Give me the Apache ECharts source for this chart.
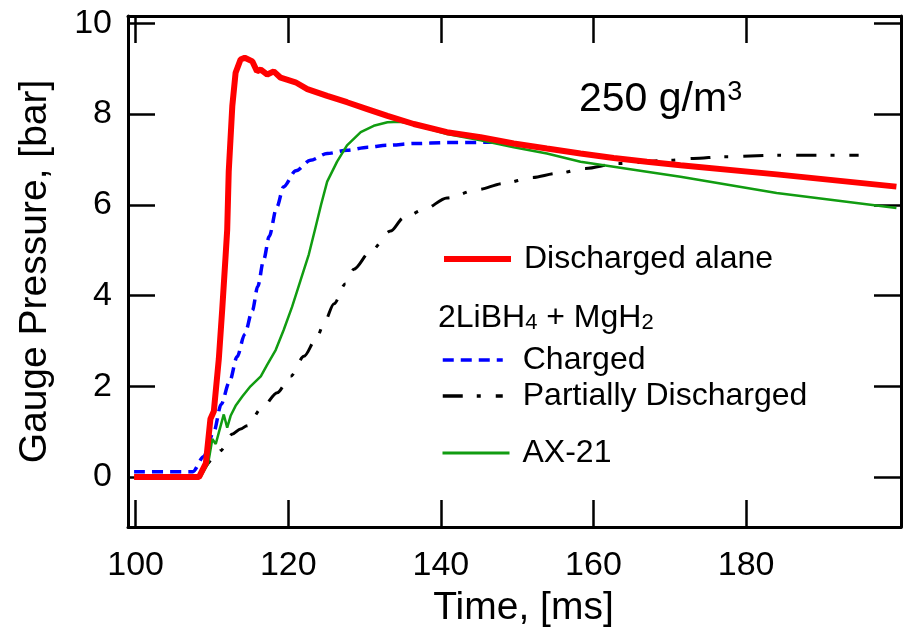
<!DOCTYPE html>
<html>
<head>
<meta charset="utf-8">
<script src="https://cdn.jsdelivr.net/npm/echarts@6/dist/echarts.min.js"></script>
<style>
  html, body { margin: 0; padding: 0; background: #fff; }
  #chart { width: 903px; height: 633px; }
</style>
</head>
<body>
<div id="chart"></div>
<script>
  // time axis ticks (ms) and pressure ticks (bar)
  var xTicks = [100, 120, 140, 160, 180];
  var yTicks = [0, 2, 4, 6, 8, 10];

  // Discharged alane
  var alaneT = [99.8, 108.3, 109.2, 109.8, 110.25, 110.9, 111.35, 111.8, 112.0, 112.2, 112.67, 113.1, 113.75, 114.3, 115.3, 115.9, 116.4, 117.25, 118.1, 119.0, 120.95, 122.5, 125.1, 127.7, 130.35, 133.0, 136.45, 140.8, 145.2, 149.55, 153.9, 158.3, 162.65, 167.0, 171.4, 184.0, 199.7];
  var alaneP = [0, 0, 0.3, 1.28, 1.45, 2.6, 3.7, 4.9, 5.45, 6.73, 8.18, 8.91, 9.2, 9.24, 9.16, 8.94, 8.98, 8.87, 8.94, 8.8, 8.7, 8.55, 8.4, 8.26, 8.11, 7.96, 7.78, 7.6, 7.49, 7.35, 7.24, 7.13, 7.03, 6.95, 6.87, 6.67, 6.4];

  // 2LiBH4 + MgH2, charged
  var chargedT = [99.8, 107.5, 108.9, 110.25, 111.2, 112.3, 113.3, 114.3, 115.3, 116.0, 116.8, 117.5, 118.5, 119.4, 121.0, 122.9, 125.1, 127.7, 130.4, 133.0, 136.5, 140.8, 147.0];
  var chargedP = [0.12, 0.12, 0.45, 1.0, 1.6, 2.1, 2.65, 3.15, 3.67, 4.2, 4.8, 5.3, 5.95, 6.4, 6.75, 6.98, 7.13, 7.2, 7.27, 7.31, 7.35, 7.37, 7.38];

  // 2LiBH4 + MgH2, partially discharged
  var partialT = [108.3, 110.7, 111.1, 112.7, 113.75, 114.6, 116.6, 118.55, 120.3, 122.05, 123.8, 124.65, 126.0, 127.5, 128.6, 130.8, 133.4, 135.1, 137.75, 140.8, 144.75, 148.2, 151.95, 155.2, 158.95, 163.1, 170.1, 173.1, 177.05, 184.05, 194.75];
  var partialP = [0, 0.48, 0.58, 0.95, 1.06, 1.13, 1.53, 1.86, 2.22, 2.66, 3.09, 3.38, 3.82, 4.26, 4.58, 4.98, 5.42, 5.71, 5.89, 6.15, 6.33, 6.47, 6.6, 6.69, 6.8, 6.91, 6.98, 7.02, 7.06, 7.09, 7.09];

  // AX-21
  var ax21T = [99.8, 108.5, 109.5, 110.05, 110.5, 110.9, 111.55, 112.0, 112.45, 113.1, 114.0, 115.05, 116.4, 117.25, 118.35, 119.4, 120.5, 121.6, 122.7, 123.5, 124.3, 125.1, 126.4, 127.7, 129.5, 131.2, 133.0, 134.7, 136.45, 140.8, 145.2, 149.55, 153.9, 158.3, 162.65, 167.0, 171.4, 184.0, 199.7];
  var ax21P = [0, 0, 0.3, 0.84, 0.73, 0.98, 1.38, 1.09, 1.35, 1.57, 1.78, 2.0, 2.22, 2.48, 2.8, 3.24, 3.75, 4.33, 4.91, 5.45, 6.0, 6.51, 6.95, 7.31, 7.6, 7.74, 7.82, 7.83, 7.77, 7.56, 7.42, 7.27, 7.13, 6.95, 6.84, 6.73, 6.62, 6.26, 5.93];

  function pairs(t, p) {
    return t.map(function (v, i) { return [v, p[i]]; });
  }

  var font = 'Liberation Sans, Arial, sans-serif';
  var black = '#000';

  var chart = echarts.init(document.getElementById('chart'));

  // shared axis styling (frame with inward ticks)
  function frameAxis(extra) {
    var base = {
      type: 'value',
      axisLine: { show: true, onZero: false, lineStyle: { color: black, width: 3 } },
      axisTick: { show: true, inside: true, length: 27, lineStyle: { color: black, width: 2.5 } },
      axisLabel: { show: false },
      splitLine: { show: false }
    };
    return Object.assign(base, extra);
  }

  // legend block: line sample only, no marker dot; text always starts at x=521
  function legendBlock(names, top, width, lineWidth, gap) {
    return {
      data: names,
      left: 441, top: top, orient: 'vertical', padding: 0, itemGap: gap || 0,
      itemWidth: width, itemHeight: 14, selectedMode: false,
      itemStyle: { color: 'rgba(0,0,0,0)', borderWidth: 0, opacity: 0 },
      lineStyle: { width: lineWidth },
      textStyle: { fontSize: 32, color: black, fontFamily: font, lineHeight: 32, padding: [0, 0, 0, 75 - width] }
    };
  }

  var option = {
    animation: false,
    backgroundColor: '#fff',
    textStyle: { fontFamily: font },
    grid: { left: 128, right: 2, top: 16, bottom: 101 },
    title: [
      {
        text: '{a|250 g/m}{b|3}',
        left: 574, top: 74,
        textStyle: {
          rich: {
            a: { fontSize: 41, fontWeight: 'normal', color: black, fontFamily: font, lineHeight: 41 },
            b: { fontSize: 27, fontWeight: 'normal', color: black, fontFamily: font, verticalAlign: 'top', lineHeight: 27 }
          }
        }
      },
      {
        text: '{m|2LiBH}{s|4}{m| + MgH}{s|2}',
        left: 433, top: 297,
        textStyle: {
          rich: {
            m: { fontSize: 32, fontWeight: 'normal', color: black, fontFamily: font, lineHeight: 32 },
            s: { fontSize: 22, fontWeight: 'normal', color: black, fontFamily: font, verticalAlign: 'bottom', lineHeight: 16 }
          }
        }
      }
    ],
    legend: [
      legendBlock(['Discharged alane'], 243, 67, 6),
      legendBlock(['Charged', 'Partially Discharged'], 344, 60, 3.5, 4),
      legendBlock(['AX-21'], 437, 67, 3)
    ],
    xAxis: [
      frameAxis({
        position: 'bottom', min: 99, max: 200.3,
        axisTick: { show: true, inside: true, length: 27, customValues: xTicks, lineStyle: { color: black, width: 2.5 } },
        axisLabel: { show: true, customValues: xTicks, fontSize: 34, color: black, fontFamily: font, margin: 22 },
        name: 'Time, [ms]', nameLocation: 'middle', nameGap: 62,
        nameTextStyle: { fontSize: 39, color: black, fontFamily: font, padding: [0, 0, 0, 18] }
      }),
      frameAxis({
        position: 'top', min: 99, max: 200.3,
        axisTick: { show: true, inside: true, length: 27, customValues: xTicks, lineStyle: { color: black, width: 2.5 } }
      })
    ],
    yAxis: [
      frameAxis({
        position: 'left', min: -1.1, max: 10.16,
        axisTick: { show: true, inside: true, length: 27, customValues: yTicks, lineStyle: { color: black, width: 2.5 } },
        axisLabel: { show: true, customValues: yTicks, fontSize: 34, color: black, fontFamily: font, margin: 16 },
        name: 'Gauge Pressure, [bar]', nameLocation: 'middle', nameGap: 73,
        nameTextStyle: { fontSize: 39, color: black, fontFamily: font }
      }),
      frameAxis({
        position: 'right', min: -1.1, max: 10.16,
        axisTick: { show: true, inside: true, length: 27, customValues: yTicks, lineStyle: { color: black, width: 2.5 } }
      })
    ],
    series: [
      {
        name: 'Partially Discharged', type: 'line', symbol: 'none',
        smooth: 0.3, smoothMonotone: 'x',
        data: pairs(partialT, partialP),
        lineStyle: { color: black, width: 3, type: [20, 14, 4, 15] },
        itemStyle: { color: black }
      },
      {
        name: 'Charged', type: 'line', symbol: 'none',
        smooth: 0.3, smoothMonotone: 'x',
        data: pairs(chargedT, chargedP),
        lineStyle: { color: '#0000ff', width: 3.5, type: [11, 7] },
        itemStyle: { color: '#0000ff' }
      },
      {
        name: 'AX-21', type: 'line', symbol: 'none',
        data: pairs(ax21T, ax21P),
        lineStyle: { color: '#119c11', width: 2.5 },
        itemStyle: { color: '#119c11' }
      },
      {
        name: 'Discharged alane', type: 'line', symbol: 'none',
        data: pairs(alaneT, alaneP),
        lineStyle: { color: '#ff0000', width: 6 },
        itemStyle: { color: '#ff0000' }
      }
    ]
  };

  chart.setOption(option);
</script>
</body>
</html>
